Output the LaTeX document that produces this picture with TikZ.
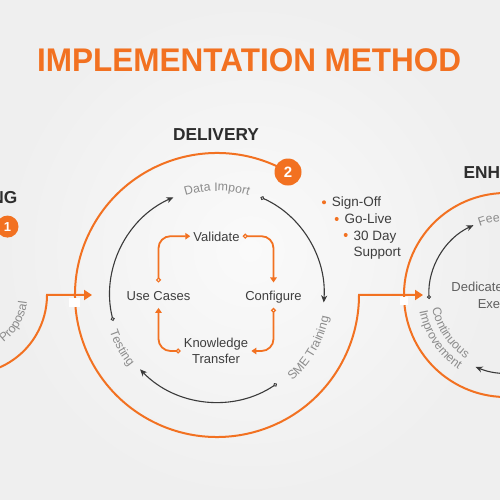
\documentclass[tikz,border=0pt]{standalone}
\usepackage{fontspec}
\setmainfont{Liberation Sans}
\usetikzlibrary{arrows.meta,decorations.text}
\definecolor{org}{RGB}{242,113,33}
\definecolor{dk}{RGB}{58,58,58}
\definecolor{hd}{RGB}{45,45,45}
\definecolor{txt}{RGB}{62,62,62}
\definecolor{lbl}{RGB}{140,140,140}
\definecolor{ded}{RGB}{95,95,95}
\definecolor{bgin}{RGB}{250,250,250}
\definecolor{bgout}{RGB}{239,239,239}
\newcommand\lblfont{\fontsize{12.3}{14}\selectfont}
\begin{document}
\begin{tikzpicture}[x=1pt,y=1pt,
  ring/.style={draw=org, line width=2pt},
  bigarrow/.style={ring, -{Triangle[length=8pt,width=10pt]}},
  loopline/.style={draw=org, line width=1.8pt, rounded corners=12pt,
    {Circle[open,length=5pt,line width=1.2pt]}-{Triangle[length=5pt,width=6.5pt]}},
  cyc/.style={draw=dk, line width=1.1pt,
    {Circle[open,length=4pt,line width=0.9pt]}-{Stealth[length=7pt,width=6pt,inset=2pt]}},
  stage/.style={font=\fontsize{13}{16}\selectfont, text=txt, inner xsep=3pt, inner ysep=4pt, text height=14pt, text depth=3pt},
  head/.style={font=\fontsize{17.3}{20}\selectfont\bfseries, text=hd, inner sep=0pt},
  badge/.style={circle, fill=org, text=white, inner sep=0pt},
  bul/.style={font=\fontsize{13.5}{16}\selectfont, text=txt, inner sep=0pt},
  curvelbl/.style={decorate, decoration={text along path, text align=center, text color=lbl}}
]
\shade[inner color=bgin, outer color=bgout] (0,0) rectangle (500,500);
\useasboundingbox (0,0) rectangle (500,500);
\clip (0,0) rectangle (500,500);

% title and headings
\node[anchor=base, font=\fontsize{31.5}{34}\selectfont\bfseries, text=org, inner sep=0pt, yscale=1.04] (title) at (249.2,428.3) {IMPLEMENTATION METHOD};
\node[head, anchor=base east] (h1) at (17.5,296.7) {PLANNING};
\node[head, anchor=base] (h2) at (216,359.3) {DELIVERY};
\node[head, anchor=base west] (h3) at (463.3,321.7) {ENHANCEMENT};

% centres
\coordinate (c1) at (-32,205);
\coordinate (c2) at (217,205);
\coordinate (c3) at (506,205);
\coordinate (in2) at (92,205);
\coordinate (in3) at (423,205);

% big rings with joining arrows
\draw[bigarrow] ([shift={(60:79)}]c1) arc[start angle=60, end angle=360, radius=79] -- (in2);
\draw[bigarrow] ([shift={(60:142)}]c2) arc[start angle=60, end angle=360, radius=142] -- (in3);
\draw[ring] ([shift={(60:102)}]c3) arc[start angle=60, end angle=360, radius=102] -- ++(40,0);
\fill[white] (68.5,193.3) rectangle (80,201.5);
\fill[white] (399.5,195) rectangle (408,202.5);

% badges
\node[badge, minimum size=22pt, font=\fontsize{13}{13}\selectfont\bfseries] (b1) at ([shift={(60:79)}]c1) {1};
\node[badge, minimum size=27pt, font=\fontsize{15}{15}\selectfont\bfseries] (b2) at ([shift={(60:142)}]c2) {2};

% dark cycle arcs
\draw[cyc] ([shift={(194:107)}]c2) arc[start angle=194, end angle=114, radius=107];
\draw[cyc] ([shift={(66:107)}]c2) arc[start angle=66, end angle=-4, radius=107];
\draw[cyc] ([shift={(-56:107)}]c2) arc[start angle=-56, end angle=-136, radius=107];
\draw[cyc] ([shift={(183:77)}]c3) arc[start angle=183, end angle=115, radius=77];
\draw[cyc] ([shift={(-60:78)}]c3) arc[start angle=-60, end angle=-113, radius=78];

% curved labels
\path[curvelbl, decoration={text={|\lblfont|Data Import}}] ([shift={(132:104)}]c2) arc[start angle=132, end angle=48, radius=104];
\path[curvelbl, decoration={text={|\lblfont|SME Training}}] ([shift={(-60:114)}]c2) arc[start angle=-60, end angle=0, radius=114];
\path[curvelbl, decoration={text={|\lblfont|Testing}}] ([shift={(-181:113.5)}]c2) arc[start angle=-181, end angle=-121, radius=113.5];
\path[curvelbl, decoration={text={|\lblfont|Proposal}}] ([shift={(-60:59.5)}]c1) arc[start angle=-60, end angle=0, radius=59.5];
\path[curvelbl, decoration={text={|\lblfont|Feedback}}] ([shift={(130:73.5)}]c3) arc[start angle=130, end angle=50, radius=73.5];
\path[curvelbl, decoration={text={|\lblfont|Continuous}}] ([shift={(-186:75)}]c3) arc[start angle=-186, end angle=-106, radius=75];
\path[curvelbl, decoration={text={|\lblfont|Improvement}}] ([shift={(-186:88)}]c3) arc[start angle=-186, end angle=-106, radius=88];

% inner loop
\node[stage, anchor=base] (val) at (216.5,258.3) {Validate};
\node[stage, anchor=base] (uc) at (158.5,199.3) {Use Cases};
\node[stage, anchor=base] (cf) at (273.5,199.3) {Configure};
\node[font=\fontsize{13}{16.6}\selectfont, text=txt, align=center, inner xsep=3pt, inner ysep=2pt] (kt) at (216,149) {Knowledge\\Transfer};
\draw[loopline] (uc.north) |- (val.west);
\draw[loopline] (val.east) -| (cf.north);
\draw[loopline] (cf.south) |- (kt.east);
\draw[loopline] (kt.west) -| (uc.south);

% bullets
\fill[org] (324,297.7) circle (2);
\fill[org] (336.7,281) circle (2);
\fill[org] (345.7,265) circle (2);
\node[bul, anchor=base west] (s1) at (331.7,293) {Sign-Off};
\node[bul, anchor=base west] (s2) at (344.3,276) {Go-Live};
\node[bul, anchor=base west] (s3) at (353.3,259.5) {30 Day};
\node[bul, anchor=base west] (s4) at (353.3,243) {Support};

% enhancement centre text
\node[font=\fontsize{13}{17.3}\selectfont, text=ded, align=center] (ded) at (506,204.7) {Dedicated Account\\Executive};
\end{tikzpicture}
\end{document}
